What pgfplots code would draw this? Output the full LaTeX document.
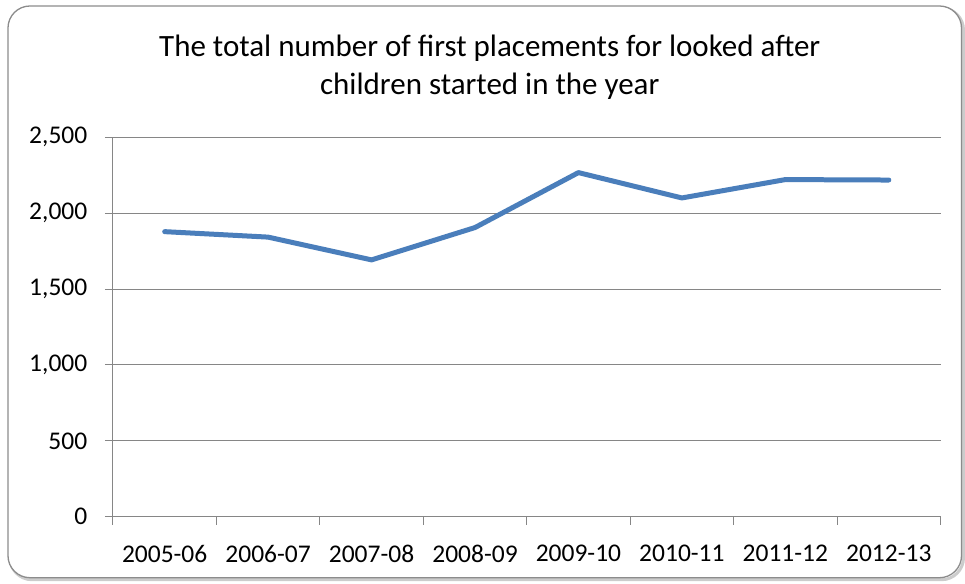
\documentclass[border=0pt]{standalone}
\usepackage{fontspec}
\setmainfont{Carlito}
\usepackage{pgfplots}
\pgfplotsset{compat=1.18}
\definecolor{lineblue}{RGB}{74,126,187}
\definecolor{gridgray}{RGB}{134,134,134}
\definecolor{framegray}{RGB}{140,140,140}
\begin{document}
\fontsize{25.5}{30}\selectfont
\begin{tikzpicture}[x=1pt,y=1pt]
\path (-113,-67) rectangle (852,517);
\draw[rounded corners=22pt, line width=3pt, color=gray!40] (-103,-63) rectangle (851,509);
\draw[rounded corners=22pt, line width=1.3pt, color=framegray, fill=white] (-105,-61) rectangle (849,511);
\node[align=center, font=\fontsize{31}{38}\selectfont] at (377,450) {The total number of first placements for looked after\\children started in the year};
\begin{axis}[
  at={(0,0)}, anchor=south west,
  scale only axis, width=828pt, height=379.7pt,
  xmin=-0.5, xmax=7.5, ymin=0, ymax=2500,
  axis x line=bottom, axis y line=left,
  axis line style={-, color=gridgray, line width=1pt},
  xtick={0,...,7},
  xticklabels={2005-06,2006-07,2007-08,2008-09,2009-10,2010-11,2011-12,2012-13},
  major x tick style={draw=none},
  minor xtick={-0.5,0.5,...,7.5},
  minor tick length=8pt,
  minor x tick style={color=gridgray, line width=1pt},
  ytick={0,500,...,2500},
  major tick length=8pt,
  tick align=outside,
  ytick style={color=gridgray, line width=1pt},
  ymajorgrids, grid style={color=gridgray, line width=1pt},
  /pgf/number format/.cd, 1000 sep={,}, assume math mode=true,
  /pgfplots/.cd,
  tick label style={font=\fontsize{25.5}{30}\selectfont},
  yticklabel style={xshift=-9pt},
  xticklabel style={yshift=-12pt},
]
\addplot[color=lineblue, line width=5pt, line cap=round, line join=round] coordinates {
(0,1878) (1,1842) (2,1692) (3,1905) (4,2267) (5,2100) (6,2221) (7,2218)
};
\end{axis}
\end{tikzpicture}
\end{document}
